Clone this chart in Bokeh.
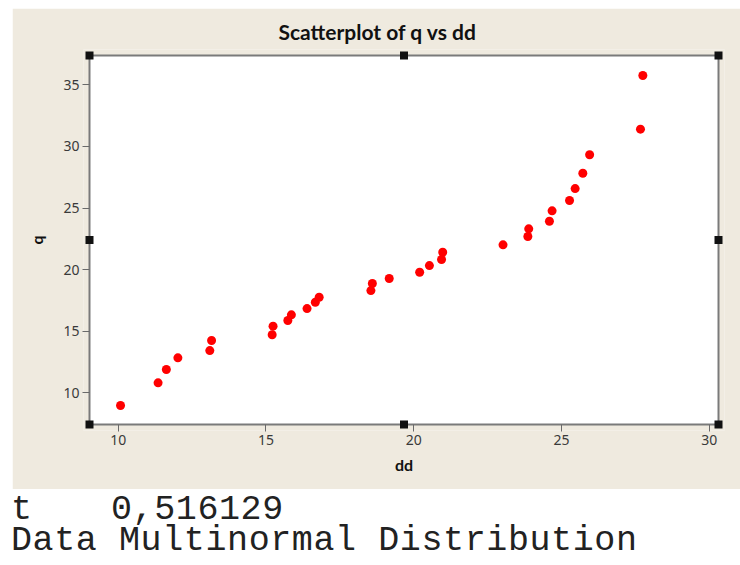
from bokeh.plotting import figure
from bokeh.models import Range1d, FixedTicker, Div
from bokeh.layouts import column
from bokeh.embed import file_html
from bokeh.resources import INLINE

# ---- data ----
dd = [10.08, 11.35, 11.63, 12.02, 13.10, 13.16, 15.21, 15.24, 15.74, 15.86,
      16.39, 16.67, 16.80, 18.55, 18.60, 19.17, 20.20, 20.53, 20.94, 20.98,
      23.02, 23.86, 23.89, 24.59, 24.68, 25.27, 25.46, 25.72, 25.95, 27.67, 27.75]
q = [8.97, 10.81, 11.89, 12.84, 13.43, 14.25, 14.71, 15.41, 15.87, 16.33,
     16.84, 17.35, 17.76, 18.30, 18.87, 19.28, 19.79, 20.33, 20.82, 21.41,
     22.01, 22.69, 23.31, 23.93, 24.77, 25.61, 26.58, 27.82, 29.32, 31.40, 35.76]
x_ticks = [10, 15, 20, 25, 30]
y_ticks = [10, 15, 20, 25, 30, 35]
x_limits = (9.03, 30.31)
y_limits = (7.43, 37.38)
title_text = "Scatterplot of q vs dd"
x_label = "dd"
y_label = "q"
t_name = "t"
t_value = "0,516129"
data_label = "Data Multinormal Distribution"

BEIGE = "#efeadf"
INNER_W = 629   # px width of the white data box
INNER_H = 369   # px height of the white data box
PAD = 6         # px of beige frame around the white data box

x0, x1 = x_limits
y0, y1 = y_limits
xpad = PAD * (x1 - x0) / INNER_W
ypad = PAD * (y1 - y0) / INNER_H

p = figure(width=728, height=481, output_backend="svg", toolbar_location=None,
           x_range=Range1d(x0 - xpad, x1 + xpad), y_range=Range1d(y0 - ypad, y1 + ypad),
           min_border_left=71, min_border_right=16, min_border_top=41,
           min_border_bottom=59, background_fill_color=BEIGE,
           border_fill_color=BEIGE, margin=(8, 0, 0, 12), title=title_text)
p.xgrid.visible = False
p.ygrid.visible = False
p.outline_line_color = None

p.title.align = "left"
p.title.offset = 195
p.title.text_font = "Lato"
p.title.text_font_style = "bold"
p.title.text_font_size = "21px"
p.title.text_color = "#111111"
p.title.standoff = 11

p.xaxis.ticker = FixedTicker(ticks=x_ticks)
p.yaxis.ticker = FixedTicker(ticks=y_ticks)
p.xaxis.axis_label = x_label
p.yaxis.axis_label = y_label
for ax in (p.xaxis[0], p.yaxis[0]):
    ax.axis_line_color = None
    ax.major_tick_line_color = "#6a6a6a"
    ax.major_tick_line_width = 1
    ax.major_tick_out = 1
    ax.major_tick_in = PAD
    ax.minor_tick_line_color = None
    ax.major_label_text_font = "Noto Sans"
    ax.major_label_text_font_size = "14px"
    ax.major_label_text_color = "#3a3a3a"
    ax.major_label_standoff = 3
    ax.axis_label_text_font = "Lato"
    ax.axis_label_text_font_style = "bold"
    ax.axis_label_text_font_size = "16px"
    ax.axis_label_text_color = "#111111"
p.yaxis.axis_label_standoff = 14
p.xaxis.axis_label_standoff = 7

# white data box with its grey border
p.quad(left=[x0], right=[x1], bottom=[y0], top=[y1], fill_color="white",
       line_color="#7a7a7a", line_width=2)

p.scatter(dd, q, marker="circle", size=9, fill_color="#ff0000", line_color=None)

# selection handles on corners and edge midpoints of the data box
xm = (x0 + x1) / 2
ym = (y0 + y1) / 2
hx = [x0, xm, x1, x0, x1, x0, xm, x1]
hy = [y1, y1, y1, ym, ym, y0, y0, y0]
p.scatter(hx, hy, marker="square", size=8, fill_color="#111111", line_color=None)

line_style = ('display:block;height:31px;line-height:31px;overflow:visible;'
              'white-space:nowrap;margin:0;padding:0;')
text_html = (
    '<div style="font-family:\'Liberation Mono\',monospace;font-size:35px;'
    'color:#222222;margin:0;padding:6px 0 0 11px;">'
    '<div style="' + line_style + '">'
    '<span style="display:inline-block;width:100px">' + t_name + '</span>'
    '<span style="letter-spacing:0.6px">' + t_value + '</span></div>'
    '<div style="' + line_style + 'letter-spacing:0.6px">' + data_label + '</div>'
    '</div>'
)
info = Div(text=text_html, width=740, height=76, margin=0)

layout = column(p, info, spacing=0)
open("out.html", "w").write(file_html(layout, INLINE))
